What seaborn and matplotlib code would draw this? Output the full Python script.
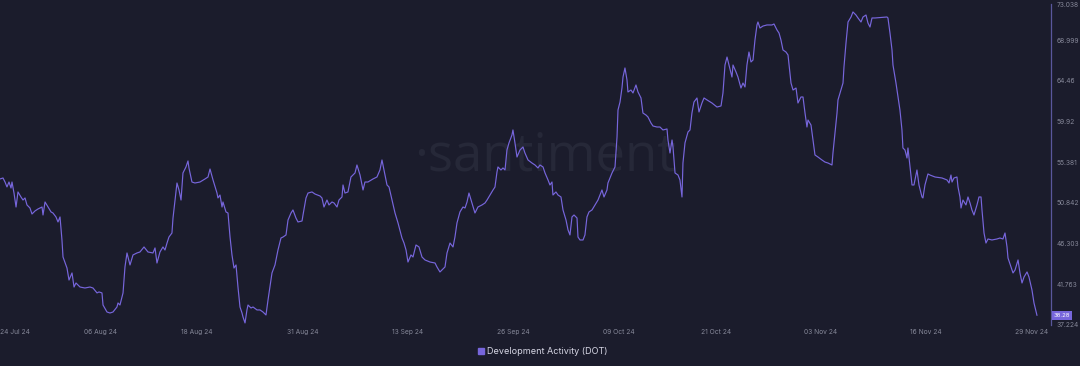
import matplotlib
matplotlib.use("Agg")
import matplotlib.pyplot as plt
from matplotlib.lines import Line2D
import matplotlib.transforms as mtransforms
import numpy as np
import pandas as pd
import seaborn as sns

# ---------------- data ----------------
start_date = "2024-07-24"
day_offset = [0.65, 1.02, 1.27, 1.51, 1.76, 2.01, 2.13, 2.38, 2.63, 2.87, 3.24, 3.49, 3.74, 3.98, 4.35, 4.60, 4.97, 5.34, 5.84, 5.96, 6.21, 6.58, 6.95, 7.19, 7.56, 7.81, 8.06, 8.30, 8.43, 8.92, 9.17, 9.54, 9.79, 10.03, 10.53, 11.14, 11.76, 12.13, 12.63, 12.87, 13.24, 13.37, 13.86, 14.23, 14.60, 15.09, 15.22, 15.46, 15.84, 16.08, 16.33, 16.70, 17.07, 17.56, 17.93, 18.43, 18.92, 19.54, 19.79, 20.03, 20.40, 20.77, 21.02, 21.27, 21.51, 21.88, 22.01, 22.26, 22.50, 22.75, 23.00, 23.24, 23.61, 23.86, 23.98, 24.35, 24.72, 25.34, 25.96, 26.33, 26.58, 26.95, 27.44, 27.56, 27.81, 28.06, 28.18, 28.55, 28.80, 29.05, 29.29, 29.54, 29.79, 30.03, 30.28, 30.53, 30.65, 30.90, 31.14, 31.27, 31.64, 31.89, 32.38, 32.75, 33.12, 33.49, 33.74, 34.23, 34.60, 34.97, 35.34, 35.59, 35.96, 36.21, 36.58, 36.82, 37.19, 37.44, 37.94, 38.06, 38.43, 38.68, 39.17, 39.54, 40.16, 40.40, 40.65, 41.02, 41.27, 41.64, 41.89, 42.26, 42.50, 42.87, 43.00, 43.24, 43.61, 43.98, 44.23, 44.48, 44.72, 45.10, 45.47, 45.71, 46.08, 46.70, 47.19, 47.56, 47.81, 48.06, 48.43, 48.68, 49.05, 49.42, 49.79, 50.28, 50.53, 50.78, 51.02, 51.39, 51.64, 52.01, 52.38, 52.75, 53.12, 53.74, 54.36, 54.60, 54.97, 55.34, 55.59, 55.84, 56.21, 56.58, 56.82, 57.07, 57.44, 57.81, 58.06, 58.31, 58.55, 58.92, 59.29, 59.66, 60.16, 60.53, 60.78, 61.15, 61.52, 61.76, 62.01, 62.13, 62.50, 62.75, 63.00, 63.24, 63.49, 63.86, 63.98, 64.23, 64.48, 64.85, 65.22, 65.46, 65.84, 66.33, 66.70, 67.07, 67.32, 67.69, 67.94, 68.31, 68.55, 68.80, 68.92, 69.29, 69.54, 69.91, 70.16, 70.53, 70.78, 71.02, 71.27, 71.52, 71.89, 72.01, 72.26, 72.63, 72.87, 73.12, 73.37, 73.74, 74.11, 74.48, 74.73, 74.97, 75.22, 75.59, 75.71, 75.96, 76.21, 76.58, 76.83, 76.95, 77.20, 77.44, 77.57, 77.81, 78.06, 78.18, 78.55, 78.80, 79.17, 79.42, 79.79, 80.03, 80.40, 80.65, 81.02, 81.27, 81.76, 82.13, 82.50, 83.00, 83.12, 83.37, 83.62, 83.74, 83.99, 84.36, 84.60, 84.85, 84.97, 85.22, 85.59, 85.84, 86.08, 86.33, 86.70, 86.95, 87.32, 87.57, 87.94, 88.55, 89.17, 89.67, 89.91, 90.16, 90.41, 90.65, 91.02, 91.15, 91.52, 91.76, 92.13, 92.38, 92.63, 92.87, 93.12, 93.37, 93.62, 93.86, 94.11, 94.23, 94.48, 94.85, 95.34, 95.96, 96.21, 96.58, 96.83, 97.07, 97.32, 97.69, 97.94, 98.31, 98.56, 98.93, 99.17, 99.54, 99.79, 100.04, 100.28, 100.41, 100.78, 101.02, 101.27, 101.64, 102.13, 102.50, 102.88, 103.37, 103.49, 103.74, 103.99, 104.11, 104.36, 104.73, 104.85, 105.10, 105.35, 105.72, 105.96, 106.33, 106.58, 106.95, 107.20, 107.57, 107.81, 108.06, 108.31, 108.68, 110.16, 110.28, 110.53, 110.78, 110.90, 111.27, 111.52, 111.76, 112.01, 112.13, 112.38, 112.63, 112.75, 113.00, 113.25, 113.49, 113.86, 114.11, 114.48, 114.60, 114.85, 115.22, 115.47, 116.09, 116.95, 117.57, 117.82, 118.06, 118.19, 118.43, 118.80, 118.93, 119.17, 119.30, 119.54, 119.91, 120.16, 120.41, 120.65, 120.90, 121.27, 121.52, 121.77, 121.89, 122.14, 122.38, 122.63, 123.12, 123.74, 124.11, 124.48, 124.73, 124.98, 125.10, 125.47, 125.72, 125.97, 126.34, 126.58, 126.83, 127.08, 127.45, 127.69, 128.06, 128.31, 128.68]

dev_activity = [53.51, 53.62, 53.17, 52.62, 53.17, 52.50, 53.17, 51.94, 50.38, 52.06, 51.50, 51.16, 51.39, 50.61, 50.27, 49.60, 49.94, 50.16, 50.38, 49.49, 50.94, 50.38, 49.83, 49.71, 49.27, 48.71, 49.27, 46.70, 44.80, 43.57, 42.23, 43.02, 41.45, 41.90, 41.45, 41.34, 41.45, 41.34, 40.79, 40.90, 40.79, 39.44, 38.66, 38.55, 38.66, 39.22, 39.67, 39.44, 40.79, 43.69, 45.25, 43.91, 45.03, 45.25, 45.36, 45.92, 45.36, 45.25, 45.81, 44.13, 45.36, 45.92, 45.58, 46.36, 47.03, 47.48, 49.15, 51.16, 53.06, 52.28, 51.16, 54.18, 54.85, 55.52, 54.74, 53.17, 53.06, 53.17, 53.51, 53.73, 54.62, 53.40, 51.94, 51.39, 51.72, 50.38, 50.94, 49.83, 49.71, 47.03, 45.03, 43.57, 43.91, 41.45, 39.22, 38.55, 38.11, 37.44, 38.89, 39.44, 39.11, 39.22, 38.89, 38.89, 38.66, 38.33, 40.00, 43.02, 43.91, 45.58, 46.92, 47.03, 47.26, 48.93, 49.71, 50.05, 49.15, 48.71, 48.82, 49.49, 51.39, 51.94, 52.06, 51.83, 51.61, 51.39, 50.38, 51.16, 50.61, 50.94, 50.83, 50.38, 51.16, 51.50, 52.84, 51.94, 52.06, 53.73, 53.95, 54.18, 55.07, 53.95, 52.28, 53.17, 53.17, 53.51, 53.73, 54.51, 55.63, 54.51, 52.84, 52.61, 51.16, 49.71, 48.60, 46.92, 46.36, 45.58, 44.24, 45.03, 44.80, 46.14, 45.92, 44.80, 44.47, 44.24, 44.13, 43.69, 43.13, 43.46, 43.69, 45.25, 46.36, 45.92, 47.03, 48.60, 49.83, 50.38, 50.27, 50.94, 51.94, 50.83, 49.71, 50.38, 50.61, 50.83, 51.16, 51.72, 52.28, 52.61, 54.29, 54.85, 54.51, 54.74, 54.51, 56.74, 57.53, 58.42, 58.98, 57.53, 55.96, 56.74, 57.08, 56.41, 55.63, 55.29, 55.07, 54.74, 55.07, 54.85, 54.18, 53.40, 52.84, 53.17, 51.72, 52.06, 51.72, 51.50, 50.05, 48.93, 47.82, 47.26, 49.27, 49.49, 49.15, 47.03, 46.70, 46.70, 47.26, 49.27, 49.83, 50.05, 50.61, 51.16, 51.72, 52.28, 51.50, 52.28, 53.06, 53.62, 54.18, 54.85, 58.20, 61.21, 62.10, 63.66, 64.89, 65.90, 64.56, 63.22, 63.44, 63.11, 64.00, 63.22, 62.55, 60.87, 60.65, 60.43, 59.76, 59.42, 59.31, 59.31, 58.98, 59.09, 57.86, 56.41, 57.86, 57.08, 54.18, 53.95, 53.40, 51.50, 55.29, 57.53, 58.75, 58.98, 60.87, 62.10, 62.55, 60.99, 62.00, 62.55, 62.33, 61.99, 61.54, 61.66, 63.11, 66.23, 67.12, 66.23, 64.89, 66.23, 65.45, 64.89, 63.66, 64.22, 63.78, 66.23, 67.68, 66.57, 66.79, 69.02, 70.70, 71.03, 70.36, 70.58, 70.70, 70.70, 70.81, 70.14, 69.80, 69.02, 67.91, 67.68, 67.35, 64.22, 63.44, 63.66, 61.99, 62.66, 62.66, 60.87, 59.31, 60.09, 59.53, 57.86, 56.19, 55.96, 55.63, 55.40, 55.29, 55.07, 56.41, 58.64, 60.87, 62.33, 63.11, 64.22, 66.01, 68.69, 71.03, 71.59, 72.15, 71.81, 71.48, 71.03, 71.59, 71.81, 70.92, 70.47, 71.48, 71.48, 71.59, 71.48, 69.80, 67.91, 66.23, 64.22, 62.66, 61.21, 58.98, 56.97, 56.74, 55.85, 56.97, 54.85, 52.84, 52.84, 54.51, 52.84, 51.50, 51.39, 52.84, 54.07, 53.95, 53.73, 53.62, 53.40, 53.06, 53.95, 53.17, 53.62, 53.73, 52.61, 51.50, 50.27, 51.16, 50.61, 51.50, 50.83, 50.05, 49.49, 50.61, 51.50, 51.50, 50.05, 47.48, 46.36, 46.81, 46.70, 46.81, 46.92, 46.81, 47.48, 45.92, 44.69, 43.69, 43.02, 43.35, 44.47, 43.02, 41.90, 42.57, 43.13, 42.57, 41.12, 39.67, 38.28]

x_tick_dates = ["2024-07-24 15:36", "2024-08-06", "2024-08-18", "2024-08-31", "2024-09-13",
                "2024-09-26", "2024-10-09", "2024-10-21", "2024-11-03", "2024-11-16", "2024-11-29"]
x_tick_labels = ["24 Jul 24", "06 Aug 24", "18 Aug 24", "31 Aug 24", "13 Sep 24",
                 "26 Sep 24", "09 Oct 24", "21 Oct 24", "03 Nov 24", "16 Nov 24", "29 Nov 24"]
y_ticks = [37.224, 41.763, 46.303, 50.842, 55.381, 59.92, 64.46, 68.999, 73.038]
y_tick_labels = ["37.224", "41.763", "46.303", "50.842", "55.381", "59.92", "64.46", "68.999", "73.038"]
series_name = "Development Activity (DOT)"
last_value_label = "38.28"
watermark = "·santiment"

if len(day_offset) != len(dev_activity):
    raise ValueError(f"length mismatch {len(day_offset)} vs {len(dev_activity)}")

# ---------------- style ----------------
BG = "#1b1c2c"
LINE = "#7766dc"
TICK = "#868899"

sns.set_style("dark", {"axes.facecolor": BG, "figure.facecolor": BG})
plt.rcParams["font.family"] = ["Inter", "DejaVu Sans"]

W, H = 1080, 366
fig = plt.figure(figsize=(W / 100, H / 100), dpi=100, facecolor=BG)
ax_left, ax_right, ax_top, ax_bottom = 0, 1051, 4, 325
ax = fig.add_axes([ax_left / W, 1 - ax_bottom / H, (ax_right - ax_left) / W, (ax_bottom - ax_top) / H])
ax.set_facecolor(BG)

start = pd.Timestamp(start_date)
df = pd.DataFrame({
    "date": start + pd.to_timedelta(day_offset, unit="D"),
    "value": dev_activity,
})

# watermark
ax.text(0.519, 0.525, watermark, transform=ax.transAxes, fontsize=38, color="#262838",
        ha="center", va="center", zorder=0, family=["Open Sans", "DejaVu Sans"])

sns.lineplot(data=df, x="date", y="value", color=LINE, linewidth=0.85, ax=ax,
             legend=False, zorder=3)

ax.set_xlim(start + pd.Timedelta(days=0.65), start + pd.Timedelta(days=130.41))
ax.set_ylim(37.21, 73.04)

# y axis on right
ax.yaxis.tick_right()
ax.set_yticks(y_ticks)
ax.set_yticklabels(y_tick_labels)
ax.tick_params(axis="y", length=0, pad=4, labelsize=4.8, labelcolor=TICK)

xt = [pd.Timestamp(d) for d in x_tick_dates]
ax.set_xticks(xt)
ax.set_xticklabels(x_tick_labels)
ax.tick_params(axis="x", length=0, pad=3, labelsize=4.8, labelcolor=TICK)
ax.get_xticklabels()[0].set_horizontalalignment("left")

ax.set_xlabel("")
ax.set_ylabel("")
ax.grid(False)
for s in ["top", "left", "bottom"]:
    ax.spines[s].set_visible(False)
ax.spines["right"].set_visible(True)
ax.spines["right"].set_color("#5a579c")
ax.spines["right"].set_linewidth(0.9)

# last value badge
trans = mtransforms.blended_transform_factory(ax.transAxes, ax.transData)
ax.text(1.0025, dev_activity[-1], last_value_label, transform=trans, fontsize=4.3,
        color="#ffffff", ha="left", va="center", zorder=5, clip_on=False,
        bbox=dict(boxstyle="square,pad=0.3", fc=LINE, ec="none"))

# legend
handle = Line2D([], [], marker="s", linestyle="none", markersize=4.2,
                markerfacecolor=LINE, markeredgecolor=LINE)
fig.legend([handle], [series_name], loc="center", bbox_to_anchor=(0.502, 1 - 352 / H),
           frameon=False, fontsize=6.5, labelcolor="#d6d6e4", handletextpad=0.3,
           handlelength=0.8, borderaxespad=0)

fig.savefig("out.png", dpi=100, facecolor=BG)
